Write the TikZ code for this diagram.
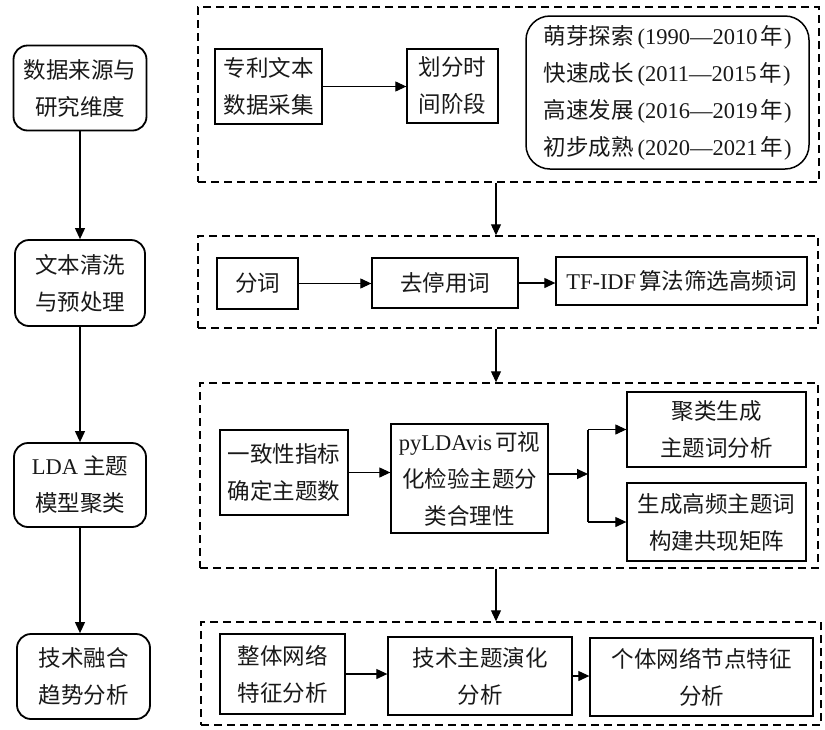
\documentclass[tikz,border=0pt]{standalone}
\usepackage{fontspec}
\setmainfont{Liberation Serif}
\newfontfamily\cjk{Noto Sans CJK SC}
\usetikzlibrary{arrows.meta}
\newcommand\lat[1]{{\rmfamily #1}}
\newcommand\yr[2]{\lat{\hspace{4pt}(#1—#2}\hspace{3pt}年\lat{\hspace{1pt})}}
\begin{document}
\begin{tikzpicture}[x=1pt,y=-1pt,
  txt/.style={font=\cjk\fontsize{22.5}{37}\selectfont, align=center, inner sep=0pt, text=black!90},
  lbox/.style={txt, draw, line width=1.8pt, rounded corners=14pt},
  ibox/.style={txt, draw, line width=1.3pt},
  dbox/.style={draw, line width=1.4pt, dash pattern=on 8pt off 5pt, inner sep=0pt},
  arr/.style={line width=1.1pt, -{Triangle[length=11pt,width=10pt]}},
  plain/.style={line width=1.1pt}]
\useasboundingbox (0,0) rectangle (825,729);
\fill[white] (0,0) rectangle (825,729);

% dashed groups
\node[dbox, minimum width=621pt, minimum height=175pt] (D1) at (508.5,94.5) {};
\node[dbox, minimum width=620pt, minimum height=92pt] (D2) at (508,282) {};
\node[dbox, minimum width=618pt, minimum height=185pt] (D3) at (509,475.5) {};
\node[dbox, minimum width=620pt, minimum height=103pt] (D4) at (511,673.5) {};
\coordinate (ax) at (496,0);

% left column
\node[lbox, minimum width=133pt, minimum height=85pt] (L1) at (80,88) {数据来源与\\研究维度};
\node[lbox, minimum width=130pt, minimum height=86pt] (L2) at (80,283) {文本清洗\\与预处理};
\node[lbox, minimum width=132pt, minimum height=84pt] (L3) at (80,485) {\lat{LDA} 主题\\模型聚类};
\node[lbox, minimum width=133pt, minimum height=85pt] (L4) at (83.5,676.5) {技术融合\\趋势分析};

\draw[arr] (L1.south) -- (L2.north);
\draw[arr] (L2.south) -- (L3.north);
\draw[arr] (L3.south) -- (L3.south |- L4.north);

% group 1
\node[ibox, minimum width=107pt, minimum height=75pt] (A1) at (268.5,86.5) {专利文本\\数据采集};
\node[ibox, minimum width=91pt, minimum height=74pt] (A2) at (452.5,86) {划分时\\间阶段};
\node[txt, draw, line width=1.5pt, rounded corners=24pt, align=left, minimum width=283pt, minimum height=153pt] (A3) at (667.5,92.5)
 {萌芽探索\yr{1990}{2010}\\
  快速成长\yr{2011}{2015}\\
  高速发展\yr{2016}{2019}\\
  初步成熟\yr{2020}{2021}};
\draw[arr] (A1.east) -- (A1.east -| A2.west);

% group 2
\node[ibox, minimum width=81pt, minimum height=51pt] (B1) at (257.5,283.5) {分词};
\node[ibox, minimum width=146pt, minimum height=50pt] (B2) at (445,283) {去停用词};
\node[ibox, minimum width=251pt, minimum height=48pt] (B3) at (681.5,281) {\lat{TF-IDF}\hspace{3pt}算法筛选高频词};
\draw[arr] (B1.east) -- (B1.east -| B2.west);
\draw[arr] (B2.east) -- (B2.east -| B3.west);

% group 3
\node[ibox, minimum width=128pt, minimum height=85pt] (C1) at (284,472.5) {一致性指标\\确定主题数};
\node[ibox, minimum width=157pt, minimum height=109pt] (C2) at (469.5,478.5) {\lat{pyLDAvis}\hspace{3pt}可视\\化检验主题分\\类合理性};
\node[ibox, minimum width=179pt, minimum height=75pt] (C3) at (716.5,429.5) {聚类生成\\主题词分析};
\node[ibox, minimum width=179pt, minimum height=78pt] (C4) at (716.5,522) {生成高频主题词\\构建共现矩阵};
\coordinate (J) at (588,474);
\draw[arr] (C1.east) -- (C1.east -| C2.west);
\draw[arr] (C2.east |- J) -- (J);
\draw[plain] (J |- C3.west) -- (J |- C4.west);
\draw[arr] (J |- C3.west) -- (C3.west);
\draw[arr] (J |- C4.west) -- (C4.west);

% group 4
\node[ibox, minimum width=125pt, minimum height=80pt] (E1) at (282.5,674) {整体网络\\特征分析};
\node[ibox, minimum width=184pt, minimum height=78pt] (E2) at (480,676) {技术主题演化\\分析};
\node[ibox, minimum width=223pt, minimum height=78pt] (E3) at (701.5,677) {个体网络节点特征\\分析};
\draw[arr] (E1.east) -- (E1.east -| E2.west);
\draw[arr] (E2.east) -- (E2.east -| E3.west);

% between groups
\draw[arr] (D1.south -| ax) -- (D2.north -| ax);
\draw[arr] (D2.south -| ax) -- (D3.north -| ax);
\draw[arr] (D3.south -| ax) -- (D4.north -| ax);
\end{tikzpicture}
\end{document}
